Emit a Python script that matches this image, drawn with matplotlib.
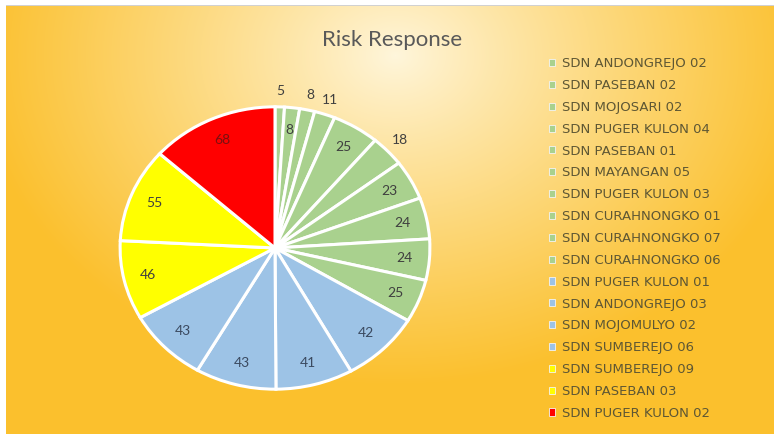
import numpy as np
import matplotlib
matplotlib.use("Agg")
import matplotlib.pyplot as plt

schools = ["SDN ANDONGREJO 02", "SDN PASEBAN 02", "SDN MOJOSARI 02", "SDN PUGER KULON 04",
           "SDN PASEBAN 01", "SDN MAYANGAN 05", "SDN PUGER KULON 03", "SDN CURAHNONGKO 01",
           "SDN CURAHNONGKO 07", "SDN CURAHNONGKO 06", "SDN PUGER KULON 01", "SDN ANDONGREJO 03",
           "SDN MOJOMULYO 02", "SDN SUMBEREJO 06", "SDN SUMBEREJO 09", "SDN PASEBAN 03",
           "SDN PUGER KULON 02"]
values = [5, 8, 8, 11, 25, 18, 23, 24, 24, 25, 42, 41, 43, 43, 46, 55, 68]
groups = ["g"] * 10 + ["b"] * 4 + ["y"] * 2 + ["r"]

group_color = {"g": "#A9D18E", "b": "#9DC3E6", "y": "#FFFF00", "r": "#FF0000"}
label_color = {"g": "#3F3F3F", "b": "#3B4A60", "y": "#404040", "r": "#7A1010"}
outside_idx = {0, 2, 3, 5}

W, H = 774, 434
fig = plt.figure(figsize=(W / 100, H / 100), dpi=100)

# background gradient
bg = fig.add_axes([0, 0, 1, 1])
yy, xx = np.mgrid[0:H, 0:W]
t = np.sqrt(((xx - 395) / 420.0) ** 2 + ((yy - 55) / 330.0) ** 2)
t = np.clip(t, 0, 1) ** 0.9
c0 = np.array([255, 246, 220]) / 255.0
c1 = np.array([251, 192, 45]) / 255.0
img = c0[None, None, :] * (1 - t[..., None]) + c1[None, None, :] * t[..., None]
img[:6, :, :] = 1.0
img[:, :6, :] = 1.0
img[5, 6:, :] = 0.82
bg.imshow(img, extent=[0, W, H, 0], aspect="auto", interpolation="bilinear")
bg.set_xlim(0, W)
bg.set_ylim(H, 0)
bg.axis("off")

# pie (elliptical, matching the stretched reference)
ax = fig.add_axes([117 / W, 1 - 392 / H, 316 / W, 288 / H])
colors = [group_color[g] for g in groups]
wedges, _ = ax.pie(values, colors=colors, startangle=90, counterclock=False,
                   wedgeprops=dict(edgecolor="white", linewidth=2.2))
ax.set_xlim(-1.02, 1.02)
ax.set_ylim(-1.02, 1.02)
ax.set_aspect("auto")
ax.axis("off")

for i, (w, v) in enumerate(zip(wedges, values)):
    ang = np.deg2rad((w.theta1 + w.theta2) / 2)
    r = 1.11 if i in outside_idx else 0.84
    ax.text(r * np.cos(ang), r * np.sin(ang), str(v), ha="center", va="center",
            fontsize=10, family="Lato", color=label_color[groups[i]])

fig.text(392 / W, 1 - 40 / H, "Risk Response", ha="center", va="center",
         fontsize=16, family="Lato", color="#595959")

leg = fig.legend(wedges, schools, loc="upper left", bbox_to_anchor=(544 / W, 1 - 52 / H),
                 frameon=False, fontsize=9.5, handlelength=0.45, handleheight=0.45,
                 handletextpad=0.5, labelspacing=0.67, borderaxespad=0)
for txt in leg.get_texts():
    txt.set_color("#5E5734")
    txt.set_family("DejaVu Sans")
for h in leg.legend_handles:
    h.set_linewidth(0.6)
    h.set_edgecolor("#F4F4F4")

fig.savefig("out.png", dpi=100)
